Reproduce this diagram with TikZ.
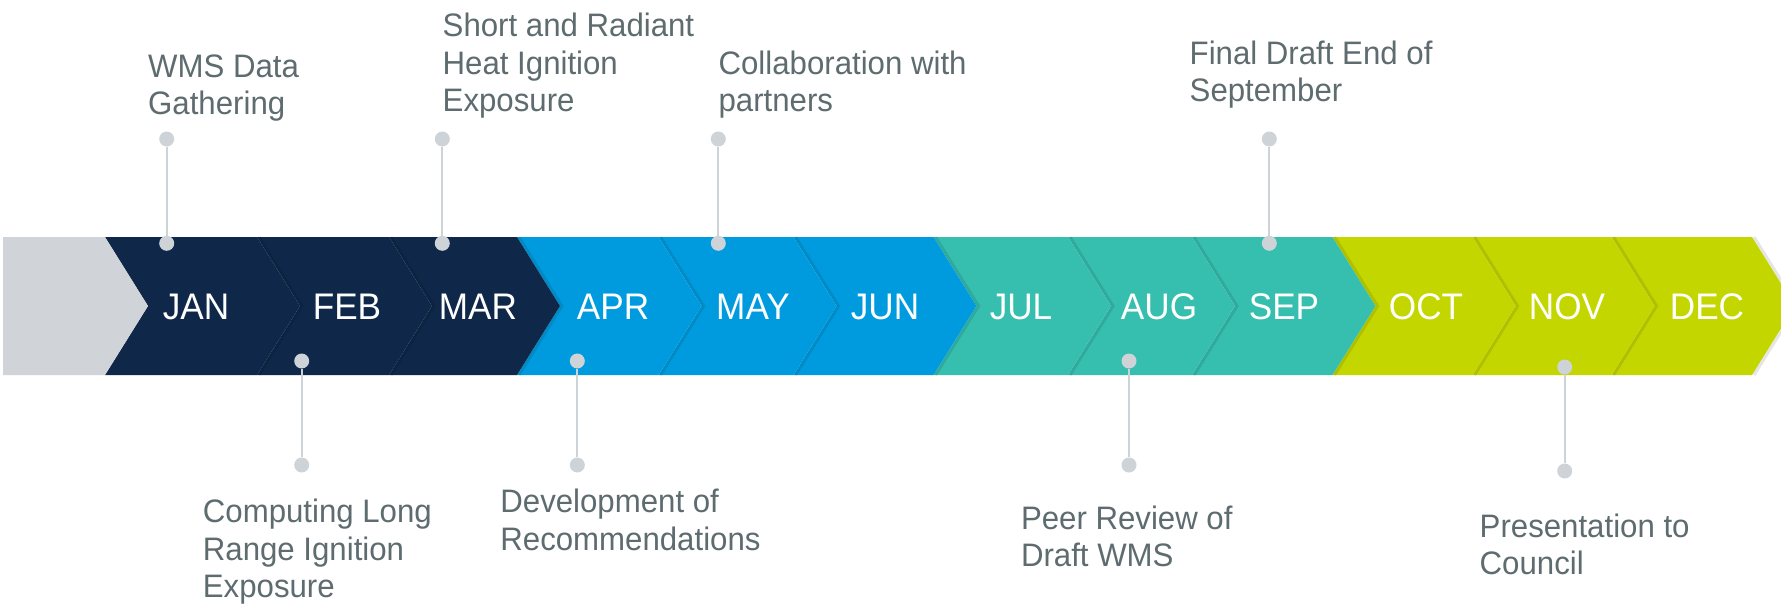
\documentclass[tikz,border=0pt]{standalone}
\usepackage{fontspec}
\setmainfont{Liberation Sans}
\definecolor{tlnavy}{RGB}{15,40,74}
\definecolor{tlblue}{RGB}{0,155,222}
\definecolor{tlteal}{RGB}{54,190,174}
\definecolor{tllime}{RGB}{195,214,0}
\definecolor{tlgrey}{RGB}{208,212,216}
\definecolor{dotgrey}{RGB}{206,211,216}
\definecolor{txtgrey}{RGB}{94,108,112}
\newcommand{\chevshape}[3]{%
  \draw[chevshadow] (#2+2,237) -- (#2+45,306) -- (#2+2,375);
  \fill[#3] (#1,237) -- (#2,237) -- (#2+43,306) -- (#2,375) -- (#1,375) -- (#1+43,306) -- cycle;}
\newcommand{\twolines}[2]{\scalebox{0.96}[1]{\vtop{\hbox{#1}\hbox{#2}}}}
\newcommand{\threelines}[3]{\scalebox{0.96}[1]{\vtop{\hbox{#1}\hbox{#2}\hbox{#3}}}}
\newcommand{\mlabel}[1]{\scalebox{0.95}[1]{#1}}
\begin{document}
\begin{tikzpicture}[x=1pt,y=-1pt,
  chevshadow/.style={draw=black, opacity=0.10, line width=3pt},
  month/.style={anchor=base, inner sep=0pt, text=white, font=\fontsize{37}{37}\selectfont},
  note/.style={anchor=base west, inner sep=0pt, text=txtgrey, font=\fontsize{32.5}{37.5}\selectfont},
  dot/.style={circle, fill=dotgrey, minimum size=15pt, inner sep=0pt},
  conn/.style={draw=dotgrey, line width=2.2pt}]
\useasboundingbox (0,0) rectangle (1781,606);
\clip (0,0) rectangle (1781,606);
\fill[white] (0,0) rectangle (1781,606);
% band, drawn right to left so each tip lies over the next chevron
\chevshape{1611.5}{1752}{tllime}
\chevshape{1472.5}{1611.5}{tllime}
\chevshape{1332.5}{1472.5}{tllime}
\chevshape{1192}{1332.5}{tlteal}
\chevshape{1068}{1192}{tlteal}
\chevshape{933.5}{1068}{tlteal}
\chevshape{793.5}{933.5}{tlblue}
\chevshape{658.5}{793.5}{tlblue}
\chevshape{517}{658.5}{tlblue}
\chevshape{389}{517}{tlnavy}
\chevshape{257}{389}{tlnavy}
\chevshape{105}{257}{tlnavy}
\fill[tlgrey] (3,237) -- (105,237) -- (148,306) -- (105,375) -- (3,375) -- cycle;
% month labels
\node[month] (jan) at (196,319.5) {\mlabel{JAN}};
\node[month] (feb) at (347,319.5) {\mlabel{FEB}};
\node[month] (mar) at (478,319.5) {\mlabel{MAR}};
\node[month] (apr) at (613,319.5) {\mlabel{APR}};
\node[month] (may) at (753,319.5) {\mlabel{MAY}};
\node[month] (jun) at (885,319.5) {\mlabel{JUN}};
\node[month] (jul) at (1021,319.5) {\mlabel{JUL}};
\node[month] (aug) at (1159,319.5) {\mlabel{AUG}};
\node[month] (sep) at (1284,319.5) {\mlabel{SEP}};
\node[month] (oct) at (1426,319.5) {\mlabel{OCT}};
\node[month] (nov) at (1567,319.5) {\mlabel{NOV}};
\node[month] (dec) at (1707,319.5) {\mlabel{DEC}};
% dots
\node[dot] (janA) at (166.7,139) {};
\node[dot] (janB) at (166.7,243.3) {};
\node[dot] (marA) at (442.3,139) {};
\node[dot] (marB) at (442.3,243.3) {};
\node[dot] (mayA) at (718.3,139) {};
\node[dot] (mayB) at (718.3,243.3) {};
\node[dot] (sepA) at (1269.3,139) {};
\node[dot] (sepB) at (1269.3,243.3) {};
\node[dot] (febA) at (301.7,361) {};
\node[dot] (febB) at (301.7,465) {};
\node[dot] (aprA) at (577.3,361) {};
\node[dot] (aprB) at (577.3,465) {};
\node[dot] (augA) at (1129,361) {};
\node[dot] (augB) at (1129,465) {};
\node[dot] (novA) at (1564.7,367) {};
\node[dot] (novB) at (1564.7,471) {};
% connectors
\draw[conn] (janA) -- (janB);
\draw[conn] (marA) -- (marB);
\draw[conn] (mayA) -- (mayB);
\draw[conn] (sepA) -- (sepB);
\draw[conn] (febA) -- (febB);
\draw[conn] (aprA) -- (aprB);
\draw[conn] (augA) -- (augB);
\draw[conn] (novA) -- (novB);
% annotations
\node[note] (tjan) at (148,77.3) {\twolines{WMS Data}{Gathering}};
\node[note] (tmar) at (442.5,36.7) {\threelines{Short and Radiant}{Heat Ignition}{Exposure}};
\node[note] (tmay) at (718.4,74) {\twolines{Collaboration with}{partners}};
\node[note] (tsep) at (1189.5,64.3) {\twolines{Final Draft End of}{September}};
\node[note] (tfeb) at (202.7,522.7) {\threelines{Computing Long}{Range Ignition}{Exposure}};
\node[note] (tapr) at (500.2,512.7) {\twolines{Development of}{Recommendations}};
\node[note] (taug) at (1020.8,529.3) {\twolines{Peer Review of}{Draft WMS}};
\node[note] (tnov) at (1479.5,537) {\twolines{Presentation to}{Council}};
\end{tikzpicture}
\end{document}
